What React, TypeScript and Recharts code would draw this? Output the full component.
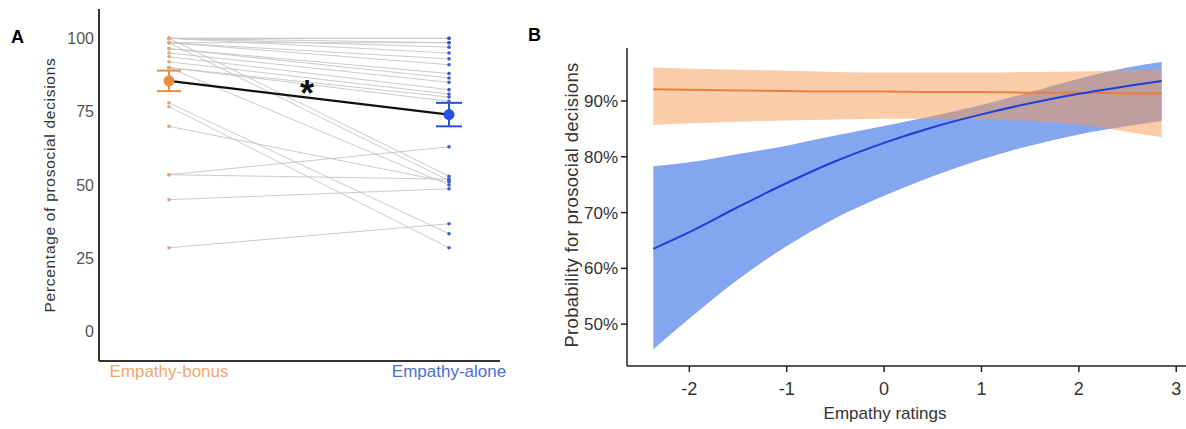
import React from 'react';
import { LineChart, ComposedChart, Line, Area, XAxis, YAxis, ErrorBar } from 'recharts';

// Panel A: paired percentages per participant
const conditions = ['Empathy-bonus', 'Empathy-alone'];
const bonusScores = [100, 100, 100, 100, 100, 98.5, 98.5, 98.5, 96.5, 96.5, 95, 93.7, 92, 90, 90, 100, 98.5, 90, 78, 76.7, 70, 53.5, 53.5, 45, 28.6];
const aloneScores = [100, 100, 98.5, 97, 95, 98.5, 93, 91, 88, 86.5, 85, 82.5, 81, 78.5, 80, 53, 51.5, 50, 33.4, 28.6, 51, 63, 52, 48.7, 36.8];
const groupMeans = [85.5, 74];
const groupErrors = [3.5, 4];
const percentTicks = [0, 25, 50, 75, 100];

// Panel B: fitted probability curves with confidence bands
const empathyX = [-2.37, -2, -1.5, -1, -0.5, 0, 0.5, 1, 1.5, 2, 2.5, 2.85];
const aloneFit = [63.5, 66.5, 71, 75.3, 79.2, 82.5, 85.3, 87.6, 89.6, 91.3, 92.7, 93.6];
const aloneLow = [45.5, 51, 58, 64, 69, 73, 76.5, 79.5, 82, 84, 85.5, 86.4];
const aloneHigh = [78.3, 79, 80.5, 82, 83.8, 85.5, 87.3, 89.3, 91.6, 94, 96, 97];
const bonusFit = [92.1, 92, 91.9, 91.8, 91.7, 91.7, 91.6, 91.6, 91.5, 91.5, 91.4, 91.4];
const bonusLow = [85.7, 86, 86.3, 86.5, 86.7, 86.8, 86.8, 86.7, 86.4, 85.8, 84.5, 83.5];
const bonusHigh = [96, 95.8, 95.6, 95.4, 95.2, 95.1, 95.1, 95.1, 95.2, 95.3, 95.5, 95.7];
const ratingTicks = [-2, -1, 0, 1, 2, 3];
const probTicks = [50, 60, 70, 80, 90];

const ORANGE = '#f08a3c';
const BLUE = '#2452e8';
const FONT = '"Liberation Sans", Arial, sans-serif';

const pairedRows = conditions.map((cond, ci) => {
  const row: Record<string, any> = { cond, mean: groupMeans[ci] };
  bonusScores.forEach((_, i) => {
    row[`p${i}`] = ci === 0 ? bonusScores[i] : aloneScores[i];
  });
  row.meanBonus = ci === 0 ? groupMeans[0] : null;
  row.errBonus = ci === 0 ? groupErrors[0] : undefined;
  row.meanAlone = ci === 1 ? groupMeans[1] : null;
  row.errAlone = ci === 1 ? groupErrors[1] : undefined;
  return row;
});

const fitRows = empathyX.map((x, i) => ({
  x,
  alone: aloneFit[i],
  bonus: bonusFit[i],
  aloneBand: [aloneLow[i], aloneHigh[i]],
  bonusBand: [bonusLow[i], bonusHigh[i]],
}));

const CondTick = (props: any) => {
  const { x, y, payload } = props;
  const color = payload.value === 'Empathy-bonus' ? '#f4a66a' : '#4a6fd6';
  return (
    <text x={x} y={y} dy="0.71em" textAnchor="middle" fill={color} fontSize={17} fontFamily={FONT}>
      {payload.value}
    </text>
  );
};

const pairDot = (props: any) => {
  const { cx, cy, index, value } = props;
  if (value == null || cy == null) return <g key={`d${index}`} />;
  return <circle key={`d${index}-${cx}-${cy}`} cx={cx} cy={cy} r={1.8} fill={index === 0 ? '#e8a27a' : '#3b5cc8'} />;
};

const meanDot = (color: string) => (props: any) => {
  const { cx, cy, index, value } = props;
  if (value == null || cy == null) return <g key={`m${index}`} />;
  return <circle key={`m${index}`} cx={cx} cy={cy} r={5.5} fill={color} />;
};

const label = (text: string, style: React.CSSProperties) => (
  <div style={{ position: 'absolute', fontFamily: FONT, whiteSpace: 'nowrap', lineHeight: 1, ...style }}>{text}</div>
);

export default function App() {
  return (
    <div style={{ position: 'absolute', left: 0, top: 0, width: 1186, height: 429, background: '#fff', fontFamily: FONT }}>
      <div style={{ position: 'absolute', left: 0, top: 0 }}>
        <LineChart width={510} height={429} data={pairedRows} margin={{ top: 9, right: 10, left: 0, bottom: 0 }}>
          <XAxis
            dataKey="cond"
            type="category"
            padding={{ left: 70, right: 51 }}
            height={68}
            tickLine={false}
            tickSize={0}
            tickMargin={4}
            interval={0}
            axisLine={{ stroke: '#333', strokeWidth: 2 }}
            tick={<CondTick />}
          />
          <YAxis
            domain={[-10, 110]}
            ticks={percentTicks}
            width={99}
            tickLine={false}
            tickSize={0}
            tickMargin={5}
            allowDataOverflow
            axisLine={{ stroke: '#333', strokeWidth: 2 }}
            tick={{ fill: '#555', fontSize: 16, fontFamily: FONT }}
          />
          {bonusScores.map((_, i) => (
            <Line
              key={`p${i}`}
              dataKey={`p${i}`}
              stroke="#c4c4c4"
              strokeWidth={0.9}
              dot={pairDot}
              activeDot={false}
              isAnimationActive={false}
            />
          ))}
          <Line dataKey="mean" stroke="#111" strokeWidth={2.2} dot={false} activeDot={false} isAnimationActive={false} />
          <Line dataKey="meanBonus" stroke="none" dot={meanDot(ORANGE)} activeDot={false} isAnimationActive={false}>
            <ErrorBar dataKey="errBonus" width={12} stroke={ORANGE} strokeWidth={2} direction="y" />
          </Line>
          <Line dataKey="meanAlone" stroke="none" dot={meanDot(BLUE)} activeDot={false} isAnimationActive={false}>
            <ErrorBar dataKey="errAlone" width={13} stroke={BLUE} strokeWidth={2} direction="y" />
          </Line>
        </LineChart>
      </div>

      <div style={{ position: 'absolute', left: 520, top: 0 }}>
        <ComposedChart width={666} height={429} data={fitRows} margin={{ top: 48, right: 0, left: 0, bottom: 0 }}>
          <XAxis
            dataKey="x"
            type="number"
            domain={[-2.64, 3.1]}
            ticks={ratingTicks}
            allowDataOverflow
            height={63}
            tickSize={6}
            tickMargin={10}
            axisLine={{ stroke: '#222', strokeWidth: 1.5 }}
            tickLine={{ stroke: '#222', strokeWidth: 1.5 }}
            tick={{ fill: '#333', fontSize: 18, fontFamily: FONT }}
          />
          <YAxis
            domain={[42.5, 99.5]}
            ticks={probTicks}
            allowDataOverflow
            width={107}
            tickSize={6}
            tickMargin={3}
            tickFormatter={(v: number) => `${v}%`}
            axisLine={{ stroke: '#222', strokeWidth: 1.5 }}
            tickLine={{ stroke: '#222', strokeWidth: 1.5 }}
            tick={{ fill: '#333', fontSize: 17, fontFamily: FONT }}
          />
          <Area dataKey="aloneBand" type="monotone" stroke="none" fill="#84a5ef" fillOpacity={1} isAnimationActive={false} activeDot={false} />
          <Area dataKey="bonusBand" type="monotone" stroke="none" fill="#f59a52" fillOpacity={0.5} isAnimationActive={false} activeDot={false} />
          <Line dataKey="bonus" type="monotone" stroke="#f07c3a" strokeWidth={2} dot={false} activeDot={false} isAnimationActive={false} />
          <Line dataKey="alone" type="monotone" stroke="#1d3fd8" strokeWidth={2} dot={false} activeDot={false} isAnimationActive={false} />
        </ComposedChart>
      </div>

      {label('A', { left: 11, top: 28, fontSize: 18, fontWeight: 'bold' })}
      {label('B', { left: 528, top: 26, fontSize: 18, fontWeight: 'bold' })}
      {label('*', { left: 300, top: 76, fontSize: 36, fontWeight: 'bold', color: '#111' })}
      {label('Percentage of prosocial decisions', {
        left: 50, top: 185, fontSize: 15.5, letterSpacing: 0.7, color: '#333',
        transform: 'translate(-50%, -50%) rotate(-90deg)',
      })}
      {label('Probability for prosocial decisions', {
        left: 572, top: 205, fontSize: 18.5, letterSpacing: 0.3, color: '#333',
        transform: 'translate(-50%, -50%) rotate(-90deg)',
      })}
      {label('Empathy ratings', {
        left: 885, top: 413, fontSize: 17, color: '#333',
        transform: 'translate(-50%, -50%)',
      })}
    </div>
  );
}
